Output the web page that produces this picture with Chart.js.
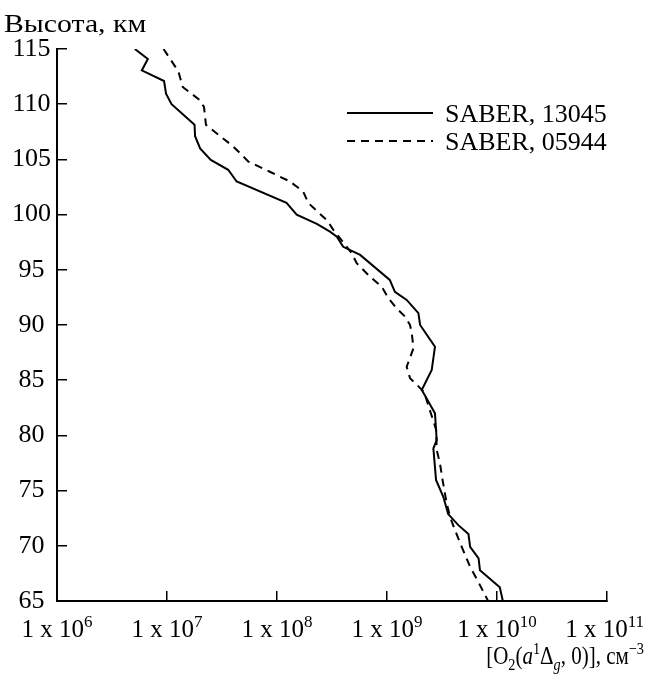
<!DOCTYPE html>
<html lang="ru">
<head>
<meta charset="utf-8">
<title>Профили O2(a1Δg) — SABER</title>
<script src="https://cdn.jsdelivr.net/npm/chart.js@4.4.1/dist/chart.umd.min.js"></script>
<style>
    html, body { margin: 0; padding: 0; background: #fff; }
    #wrap { width: 645px; height: 677px; }
</style>
</head>
<body>
<div id="wrap"><canvas id="profileChart" width="645" height="677"></canvas></div>
<script>
// Данные
const altSaber13045 = [115.0, 114.1, 113.06, 112.1, 110.95, 110.0, 108.14, 107.1, 106.0, 104.96,
    104.06, 103.0, 101.07, 100.0, 99.16, 98.46, 98.0, 97.08, 96.35, 94.08,
    93.0, 92.27, 91.07, 90.0, 88.04, 85.92, 84.11, 83.66, 82.0, 79.58,
    78.83, 75.97, 74.44, 72.87, 71.87, 71.06, 69.9, 68.85, 67.79, 66.25, 65.0];
const concSaber13045 = [5.1e6, 6.7e6, 5.9e6, 9.4e6, 9.8e6, 1.1e7, 1.78e7, 1.8e7, 2.0e7, 2.5e7,
    3.6e7, 4.3e7, 1.22e8, 1.51e8, 2.3e8, 3.03e8, 3.5e8, 4.0e8, 5.7e8, 1.06e9,
    1.18e9, 1.51e9, 1.93e9, 2.0e9, 2.73e9, 2.55e9, 2.07e9, 2.2e9, 2.73e9, 2.83e9,
    2.64e9, 2.79e9, 3.25e9, 3.6e9, 4.45e9, 5.5e9, 5.7e9, 6.8e9, 7.0e9, 1.06e10, 1.13e10];

const altSaber05944 = [115.0, 112.97, 111.56, 110.4, 109.74, 108.14, 106.17, 104.8, 103.88, 103.0,
    102.09, 101.04, 99.43, 98.62, 96.5, 95.6, 94.38, 93.48, 92.43, 91.52,
    90.76, 90.0, 89.25, 87.9, 86.22, 85.17, 84.65, 83.93, 80.5, 78.67,
    77.47, 75.96, 73.84, 72.63, 71.42, 69.9, 68.09, 66.73, 65.0];
const concSaber05944 = [9.3e6, 1.27e7, 1.39e7, 1.97e7, 2.17e7, 2.26e7, 4.0e7, 5.5e7, 8.6e7, 1.31e8,
    1.73e8, 1.93e8, 2.88e8, 3.25e8, 4.78e8, 5.3e8, 7.0e8, 8.95e8, 1.03e9, 1.22e9,
    1.46e9, 1.62e9, 1.68e9, 1.74e9, 1.51e9, 1.62e9, 1.84e9, 2.17e9, 2.8e9, 2.83e9,
    3.03e9, 3.2e9, 3.49e9, 3.74e9, 4.15e9, 4.78e9, 5.7e9, 6.76e9, 8.3e9];

const seriesLabels = ['SABER, 13045', 'SABER, 05944'];
const xTickValues = [1e6, 1e7, 1e8, 1e9, 1e10, 1e11];
const yMin = 65;
const yMax = 115;
const yStep = 5;
const yAxisTitle = 'Высота, км';

const FONT = '"Liberation Serif", "Times New Roman", serif';

function font(size, italic) {
    return (italic ? 'italic ' : '') + size + 'px ' + FONT;
}

/**
 * Рисует текст из кусочков (индексы, курсив) начиная с x, базовая линия y
 */
function drawRich(ctx, parts, x, y) {
    let cx = x;
    parts.forEach(p => {
        ctx.font = font(p.size, p.italic);
        ctx.fillText(p.t, cx, y + (p.dy || 0));
        cx += ctx.measureText(p.t).width;
    });
    return cx - x;
}

function measureRich(ctx, parts) {
    let w = 0;
    parts.forEach(p => {
        ctx.font = font(p.size, p.italic);
        w += ctx.measureText(p.t).width;
    });
    return w;
}

function toPoints(alts, values) {
    return alts.map((a, i) => ({ x: values[i], y: a }));
}

// Подписи осей, метки оси X и легенда
const annotationsPlugin = {
    id: 'annotations',
    afterDraw(chart) {
        const ctx = chart.ctx;
        const xScale = chart.scales.x;
        ctx.save();
        ctx.fillStyle = '#000';
        ctx.textAlign = 'left';
        ctx.textBaseline = 'alphabetic';

        // Подпись оси Y (в оригинале шрифт шире)
        ctx.save();
        ctx.translate(4, 32);
        ctx.scale(1.19, 1);
        ctx.font = font(25);
        ctx.fillText(yAxisTitle, 0, 0);
        ctx.restore();

        // Метки оси X: 1 x 10^n
        xScale.ticks.forEach(tick => {
            const exp = Math.round(Math.log10(tick.value));
            const parts = [
                { t: '1 x 10', size: 25 },
                { t: String(exp), size: 17, dy: -10 },
            ];
            const w = measureRich(ctx, parts);
            let left = xScale.getPixelForValue(tick.value) - w / 2;
            if (left + w > chart.width - 1) {
                left = chart.width - 1 - w;
            }
            drawRich(ctx, parts, left, 637);
        });

        // Подпись оси X (в оригинале шрифт уже)
        const xTitle = [
            { t: '[O', size: 25 },
            { t: '2', size: 17, dy: 6 },
            { t: '(', size: 25 },
            { t: 'a', size: 25, italic: true },
            { t: '1', size: 17, dy: -10 },
            { t: 'Δ', size: 25 },
            { t: 'g', size: 17, dy: 6, italic: true },
            { t: ', 0)], см', size: 25 },
            { t: '−3', size: 17, dy: -10 },
        ];
        const squeeze = 0.84;
        const tw = measureRich(ctx, xTitle) * squeeze;
        ctx.save();
        ctx.translate(chart.width - 1 - tw, 664);
        ctx.scale(squeeze, 1);
        drawRich(ctx, xTitle, 0, 0);
        ctx.restore();

        // Легенда
        chart.data.datasets.forEach((ds, i) => {
            const y = 113 + i * 28;
            ctx.beginPath();
            ctx.lineWidth = ds.borderWidth;
            ctx.strokeStyle = ds.borderColor;
            ctx.setLineDash(ds.borderDash || []);
            ctx.moveTo(347, y);
            ctx.lineTo(433, y);
            ctx.stroke();
            ctx.setLineDash([]);
            ctx.font = font(26);
            ctx.fillText(ds.label, 445, y + 9);
        });

        ctx.restore();
    },
};

const ctx = document.getElementById('profileChart').getContext('2d');

const chart = new Chart(ctx, {
    type: 'line',
    data: {
        datasets: [
            {
                label: seriesLabels[0],
                data: toPoints(altSaber13045, concSaber13045),
                borderColor: '#000',
                borderWidth: 2,
                borderDash: [],
                pointRadius: 0,
                tension: 0,
                fill: false,
            },
            {
                label: seriesLabels[1],
                data: toPoints(altSaber05944, concSaber05944),
                borderColor: '#000',
                borderWidth: 2,
                borderDash: [8, 6],
                pointRadius: 0,
                tension: 0,
                fill: false,
            },
        ],
    },
    options: {
        responsive: false,
        animation: false,
        devicePixelRatio: 1,
        layout: {
            padding: { left: 0, top: 49, right: 38, bottom: 0 },
        },
        plugins: {
            legend: { display: false },
            tooltip: { enabled: false },
            title: { display: false },
        },
        scales: {
            x: {
                type: 'logarithmic',
                position: 'bottom',
                min: xTickValues[0],
                max: xTickValues[xTickValues.length - 1],
                afterBuildTicks: (scale) => {
                    scale.ticks = xTickValues.map(v => ({ value: v }));
                },
                afterFit: (scale) => {
                    scale.height = 76;
                },
                ticks: { display: false },
                grid: {
                    drawOnChartArea: false,
                    drawTicks: true,
                    tickLength: -10,
                    color: '#000',
                    lineWidth: 1.5,
                },
                border: { display: true, color: '#000', width: 2 },
            },
            y: {
                type: 'linear',
                position: 'left',
                min: yMin,
                max: yMax,
                afterFit: (scale) => {
                    scale.width = 57;
                },
                ticks: {
                    stepSize: yStep,
                    color: '#000',
                    padding: 16,
                    crossAlign: 'center',
                    font: { family: FONT, size: 26 },
                },
                grid: {
                    drawOnChartArea: false,
                    drawTicks: true,
                    tickLength: -10,
                    color: '#000',
                    lineWidth: 1.5,
                },
                border: { display: true, color: '#000', width: 2 },
            },
        },
    },
    plugins: [annotationsPlugin],
});
</script>
</body>
</html>
